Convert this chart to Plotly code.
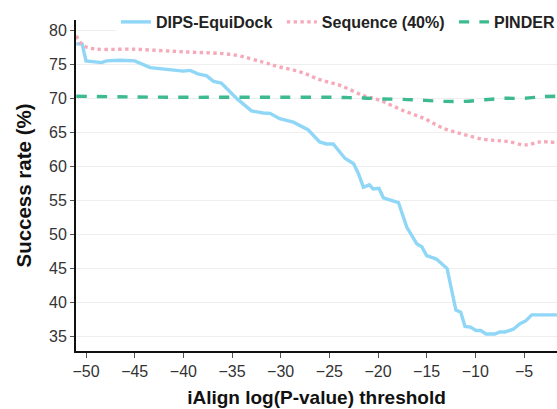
import plotly.graph_objects as go

# DIPS-EquiDock
dips_x = [-51.0, -50.4, -50.0, -48.4, -47.9, -46.5, -45.0, -43.4, -40.0, -39.3, -38.5, -37.6, -36.9, -36.1,
          -34.5, -33.0, -31.8, -31.1, -30.1, -28.7, -27.2, -26.0, -25.3, -24.6, -23.4, -22.5, -22.0, -21.5,
          -20.9, -20.5, -19.9, -19.45, -18.8, -17.9, -17.05, -16.0, -15.5, -15.0, -14.0, -12.9, -12.5, -12.0,
          -11.5, -11.06, -10.5, -9.93, -9.45, -8.9, -8.0, -7.47, -6.95, -6.1, -5.41, -4.8, -4.2, -3.7, -1.6]
dips_y = [78.0, 78.0, 75.5, 75.25, 75.5, 75.6, 75.5, 74.5, 74.0, 74.1, 73.6, 73.3, 72.5, 72.25,
          69.95, 68.15, 67.85, 67.8, 67.0, 66.5, 65.4, 63.6, 63.3, 63.3, 61.2, 60.4, 58.9, 56.95,
          57.3, 56.7, 56.8, 55.4, 55.1, 54.7, 51.1, 48.6, 48.2, 46.9, 46.4, 45.0, 42.3, 38.9,
          38.6, 36.5, 36.4, 35.9, 35.9, 35.4, 35.4, 35.7, 35.7, 36.1, 36.9, 37.35, 38.2, 38.2, 38.2]

# Sequence (40%)
seq_x = [-51.0, -50.1, -44.8, -39.6, -34.9, -31.8, -30.1, -28.0, -26.0, -23.9, -21.5, -19.8, -17.4,
         -15.2, -13.3, -11.2, -9.2, -7.8, -6.6, -5.2, -4.55, -3.35, -1.6]
seq_y = [79.2, 77.6, 77.2, 76.8, 76.4, 75.3, 74.6, 73.9, 72.75, 71.9, 70.4, 69.7, 68.2,
         67.0, 65.6, 64.7, 64.0, 63.8, 63.65, 63.2, 63.2, 63.6, 63.5]

# PINDER
pinder_x = [-51.0, -45.0, -40.0, -35.0, -30.0, -25.0, -23.0, -21.5, -19.5, -17.4, -15.2, -13.1,
            -11.1, -9.0, -7.0, -5.0, -3.0, -1.6]
pinder_y = [70.3, 70.2, 70.15, 70.15, 70.15, 70.15, 70.1, 70.05, 69.9, 69.85, 69.7, 69.55,
            69.55, 69.8, 70.0, 70.0, 70.25, 70.3]

x_ticks = [-50, -45, -40, -35, -30, -25, -20, -15, -10, -5]
y_ticks = [35, 40, 45, 50, 55, 60, 65, 70, 75, 80]

FONT = "Liberation Sans, Arial, Helvetica, sans-serif"

fig = go.Figure()
fig.add_trace(go.Scatter(x=dips_x, y=dips_y, mode="lines", name="DIPS-EquiDock\u00a0",
                         line=dict(color="#8fd6f7", width=3.4)))
fig.add_trace(go.Scatter(x=seq_x, y=seq_y, mode="lines", name="Sequence (40%)\u00a0",
                         line=dict(color="#f6a9b9", width=3.4, dash="dot", shape="spline")))
fig.add_trace(go.Scatter(x=pinder_x, y=pinder_y, mode="lines", name="PINDER",
                         line=dict(color="#3dba8f", width=3.4, dash="dash", shape="spline")))

fig.update_layout(
    width=557, height=409,
    margin=dict(l=76, r=0, t=20, b=58, autoexpand=False),
    paper_bgcolor="white", plot_bgcolor="white",
    font=dict(family=FONT, color="#222"),
    showlegend=True,
    legend=dict(orientation="h", x=0.083, y=0.994, xanchor="left", yanchor="middle",
                bgcolor="rgba(255,255,255,1)", font=dict(size=16, color="#222", weight="bold"),
                tracegroupgap=0),
    xaxis=dict(range=[-51.03, -1.61], tickvals=x_ticks, ticktext=[f"\u2212{abs(v)}" for v in x_ticks],
               showgrid=False, zeroline=False, showline=True, linecolor="#111", linewidth=2,
               ticks="outside", ticklen=5, tickcolor="#555", tickwidth=1,
               tickfont=dict(size=16, color="#333"),
               title=dict(text="<b>iAlign log(P-value) threshold</b>", font=dict(size=19, color="#111"),
                          standoff=11)),
    yaxis=dict(range=[32.9, 81.5], tickvals=y_ticks,
               showgrid=True, gridcolor="#eeeeee", gridwidth=1, zeroline=False,
               showline=True, linecolor="#111", linewidth=2,
               ticks="outside", ticklen=4, tickcolor="#555", tickwidth=1,
               tickfont=dict(size=16, color="#333"),
               title=dict(text="<b>Success rate (%)</b>", font=dict(size=20.5, color="#111"),
                          standoff=12)),
)

fig.write_html("out.html")
